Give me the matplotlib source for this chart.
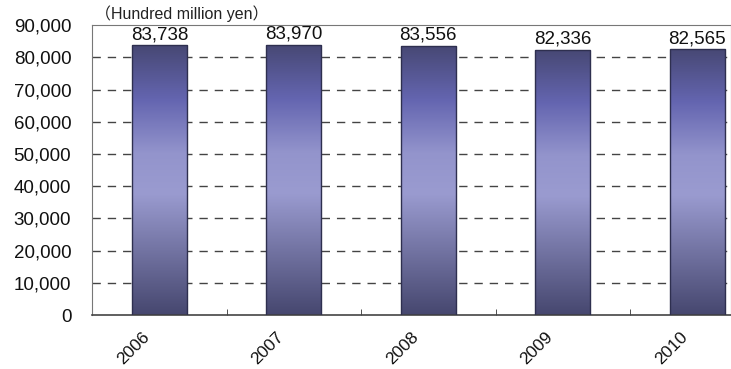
import numpy as np
import matplotlib.pyplot as plt
import matplotlib.transforms as mtransforms
from matplotlib.colors import LinearSegmentedColormap

years = ['2006', '2007', '2008', '2009', '2010']
sales = [83738, 83970, 83556, 82336, 82565]
yticks = list(range(0, 90001, 10000))

plt.rcParams['font.family'] = ['Liberation Sans', 'Noto Sans CJK JP', 'DejaVu Sans']

fig = plt.figure(figsize=(7.31, 3.69), dpi=100)
ax = fig.add_axes([0.126, 0.146, 0.874, 0.786])

x = np.arange(len(years))
bars = ax.bar(x, sales, width=0.41, color='none', edgecolor='#2e2f4f', linewidth=1.0, zorder=3)

# vertical gradient: dark at top and bottom, light in the middle
cmap = LinearSegmentedColormap.from_list('barg', [
    (0.0, '#46476f'), (0.45, '#9a9bd0'), (0.6, '#9394cc'), (0.8, '#6465b0'), (1.0, '#474874')])
grad = np.linspace(0, 1, 256).reshape(-1, 1)
for b in bars:
    x0, w, h = b.get_x(), b.get_width(), b.get_height()
    im = ax.imshow(grad, cmap=cmap, aspect='auto', extent=[x0, x0 + w, 0, h],
                   origin='lower', zorder=2)
    im.set_clip_path(b)
    ax.text(x0 + w / 2, h + 600, f'{h:,.0f}', ha='center', va='bottom', fontsize=13.5, color='#111')

ax.set_xlim(-0.5, 4.25)
ax.set_ylim(0, 90000)
ax.set_yticks(yticks)
ax.set_yticklabels([f'{v:,}' for v in yticks], fontsize=13.5, color='#111')
ax.tick_params(axis='y', length=0, pad=15)

for v in yticks[1:-1]:
    ax.axhline(v, color='#444', linewidth=1.0, dashes=(6, 5), zorder=1)

ax.set_xticks(x)
ax.set_xticklabels(years, rotation=45, ha='right', va='top', fontsize=12.5, color='#111')
ax.tick_params(axis='x', which='major', length=0, pad=10)
shift = mtransforms.ScaledTranslation(-7 / 100, 0, fig.dpi_scale_trans)
for lab in ax.get_xticklabels():
    lab.set_transform(lab.get_transform() + shift)
ax.set_xticks(x[:-1] + 0.5, minor=True)
ax.tick_params(axis='x', which='minor', direction='in', length=4, color='#333')

for s in ['left', 'top', 'right']:
    ax.spines[s].set_color('#777')
ax.spines['bottom'].set_color('#444')
ax.spines['bottom'].set_linewidth(1.2)

fig.text(95 / 731, 1 - 14 / 369, '（Hundred million yen）', fontsize=11.5, ha='left', va='center', color='#222')

fig.savefig('out.png', dpi=100)
